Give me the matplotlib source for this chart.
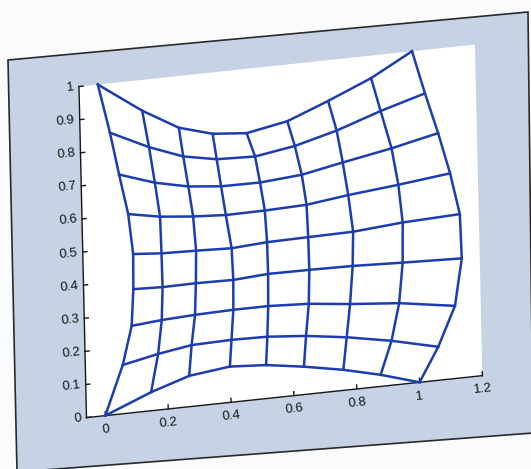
import numpy as np
import matplotlib
matplotlib.use('Agg')
from matplotlib import pyplot as plt
from matplotlib import transforms as mtransforms
from matplotlib.patches import Polygon, Rectangle

# Warped mesh: one list per mesh line, bottom line first, left node first
grid_x = [
    [0.000, 0.147, 0.269, 0.399, 0.514, 0.634, 0.759, 0.877, 1.000],
    [0.059, 0.172, 0.279, 0.406, 0.520, 0.643, 0.772, 0.914, 1.062],
    [0.090, 0.186, 0.292, 0.414, 0.525, 0.654, 0.785, 0.941, 1.118],
    [0.098, 0.191, 0.297, 0.416, 0.527, 0.658, 0.796, 0.955, 1.143],
    [0.100, 0.190, 0.300, 0.413, 0.526, 0.657, 0.800, 0.958, 1.140],
    [0.087, 0.188, 0.293, 0.397, 0.521, 0.654, 0.787, 0.947, 1.112],
    [0.061, 0.174, 0.280, 0.384, 0.508, 0.641, 0.772, 0.928, 1.077],
    [0.035, 0.158, 0.266, 0.372, 0.494, 0.621, 0.755, 0.896, 1.038],
    [0.000, 0.139, 0.254, 0.361, 0.469, 0.599, 0.730, 0.868, 1.000],
]
grid_y = [
    [0.000, 0.056, 0.093, 0.108, 0.101, 0.084, 0.062, 0.035, 0.000],
    [0.147, 0.169, 0.185, 0.188, 0.186, 0.176, 0.159, 0.134, 0.101],
    [0.262, 0.270, 0.275, 0.278, 0.278, 0.272, 0.258, 0.245, 0.219],
    [0.372, 0.369, 0.370, 0.368, 0.375, 0.374, 0.372, 0.366, 0.360],
    [0.478, 0.471, 0.468, 0.464, 0.471, 0.473, 0.475, 0.487, 0.494],
    [0.600, 0.582, 0.572, 0.566, 0.567, 0.571, 0.587, 0.602, 0.620],
    [0.722, 0.686, 0.664, 0.654, 0.653, 0.663, 0.687, 0.714, 0.745],
    [0.851, 0.795, 0.756, 0.737, 0.733, 0.752, 0.785, 0.830, 0.869],
    [1.000, 0.907, 0.844, 0.815, 0.806, 0.829, 0.877, 0.932, 1.000],
]

x_ticks = [0, 0.2, 0.4, 0.6, 0.8, 1.0, 1.2]
x_labels = ['0', '0.2', '0.4', '0.6', '0.8', '1', '1.2']
y_ticks = [0, 0.1, 0.2, 0.3, 0.4, 0.5, 0.6, 0.7, 0.8, 0.9, 1.0]
y_labels = ['0', '0.1', '0.2', '0.3', '0.4', '0.5', '0.6', '0.7', '0.8', '0.9', '1']

xmin, xmax = -0.06, 1.2
ymin, ymax = 0.0, 1.0

W, H = 531, 469
fig = plt.figure(figsize=(W / 100, H / 100), dpi=100)
fig.patch.set_facecolor('#fafbfc')

# pixel coords (origin top-left) -> display coords
pix = mtransforms.Affine2D().scale(1, -1).translate(0, H)

# grey figure window, photographed at a slight angle
frame = Polygon([(8, 60), (528, 12), (533, 433), (17, 472)], closed=True,
                facecolor='#c6d3e4', edgecolor='#2a2a2a', linewidth=1.2,
                transform=pix, zorder=-5)
fig.add_artist(frame)

# axes rectangle before tilting (display pixels)
x0, y0 = 86.5, 51.4
aw, ah = 398.1, 330.0
ax = fig.add_axes([x0 / W, y0 / H, aw / W, ah / H])
ax.set_xlim(xmin, xmax)
ax.set_ylim(ymin, ymax)
ax.set_axis_off()

# rotation + slight shear of the whole plot area
tilt = (mtransforms.Affine2D().translate(-x0, -y0)
        .skew_deg(4.75, 0).rotate_deg(6.05).translate(x0, y0))
trans = ax.transData + tilt

ax.add_patch(Rectangle((0, 0), 1, 1, transform=ax.transAxes + tilt,
                       facecolor='white', edgecolor='none', zorder=0,
                       clip_on=False))

gx = np.array(grid_x)
gy = np.array(grid_y)
blue = '#1b3db0'
for i in range(gx.shape[0]):
    ax.plot(gx[i], gy[i], color=blue, lw=1.8, transform=trans,
            clip_on=False, zorder=3, solid_joinstyle='round')
for j in range(gx.shape[1]):
    ax.plot(gx[:, j], gy[:, j], color=blue, lw=1.8, transform=trans,
            clip_on=False, zorder=3, solid_joinstyle='round')

# axis lines, inward ticks and labels
ink = '#151515'
ax.plot([xmin, xmax], [ymin, ymin], color=ink, lw=1.0, transform=trans, clip_on=False, zorder=2)
ax.plot([xmin, xmin], [ymin, ymax], color=ink, lw=1.0, transform=trans, clip_on=False, zorder=2)
for t, lab in zip(x_ticks, x_labels):
    ax.plot([t, t], [ymin, ymin + 0.012], color=ink, lw=1.0, transform=trans, clip_on=False, zorder=2)
    ax.text(t, ymin - 0.042, lab, transform=trans, ha='center', va='center',
            rotation=6, rotation_mode='anchor', fontsize=9.5,
            family='Liberation Sans', color=ink)
for t, lab in zip(y_ticks, y_labels):
    ax.plot([xmin, xmin + 0.013], [t, t], color=ink, lw=1.0, transform=trans, clip_on=False, zorder=2)
    ax.text(xmin - 0.016, t, lab, transform=trans, ha='right', va='center',
            rotation=6, rotation_mode='anchor', fontsize=9.5,
            family='Liberation Sans', color=ink)

fig.savefig('out.png', dpi=100, facecolor=fig.get_facecolor())
